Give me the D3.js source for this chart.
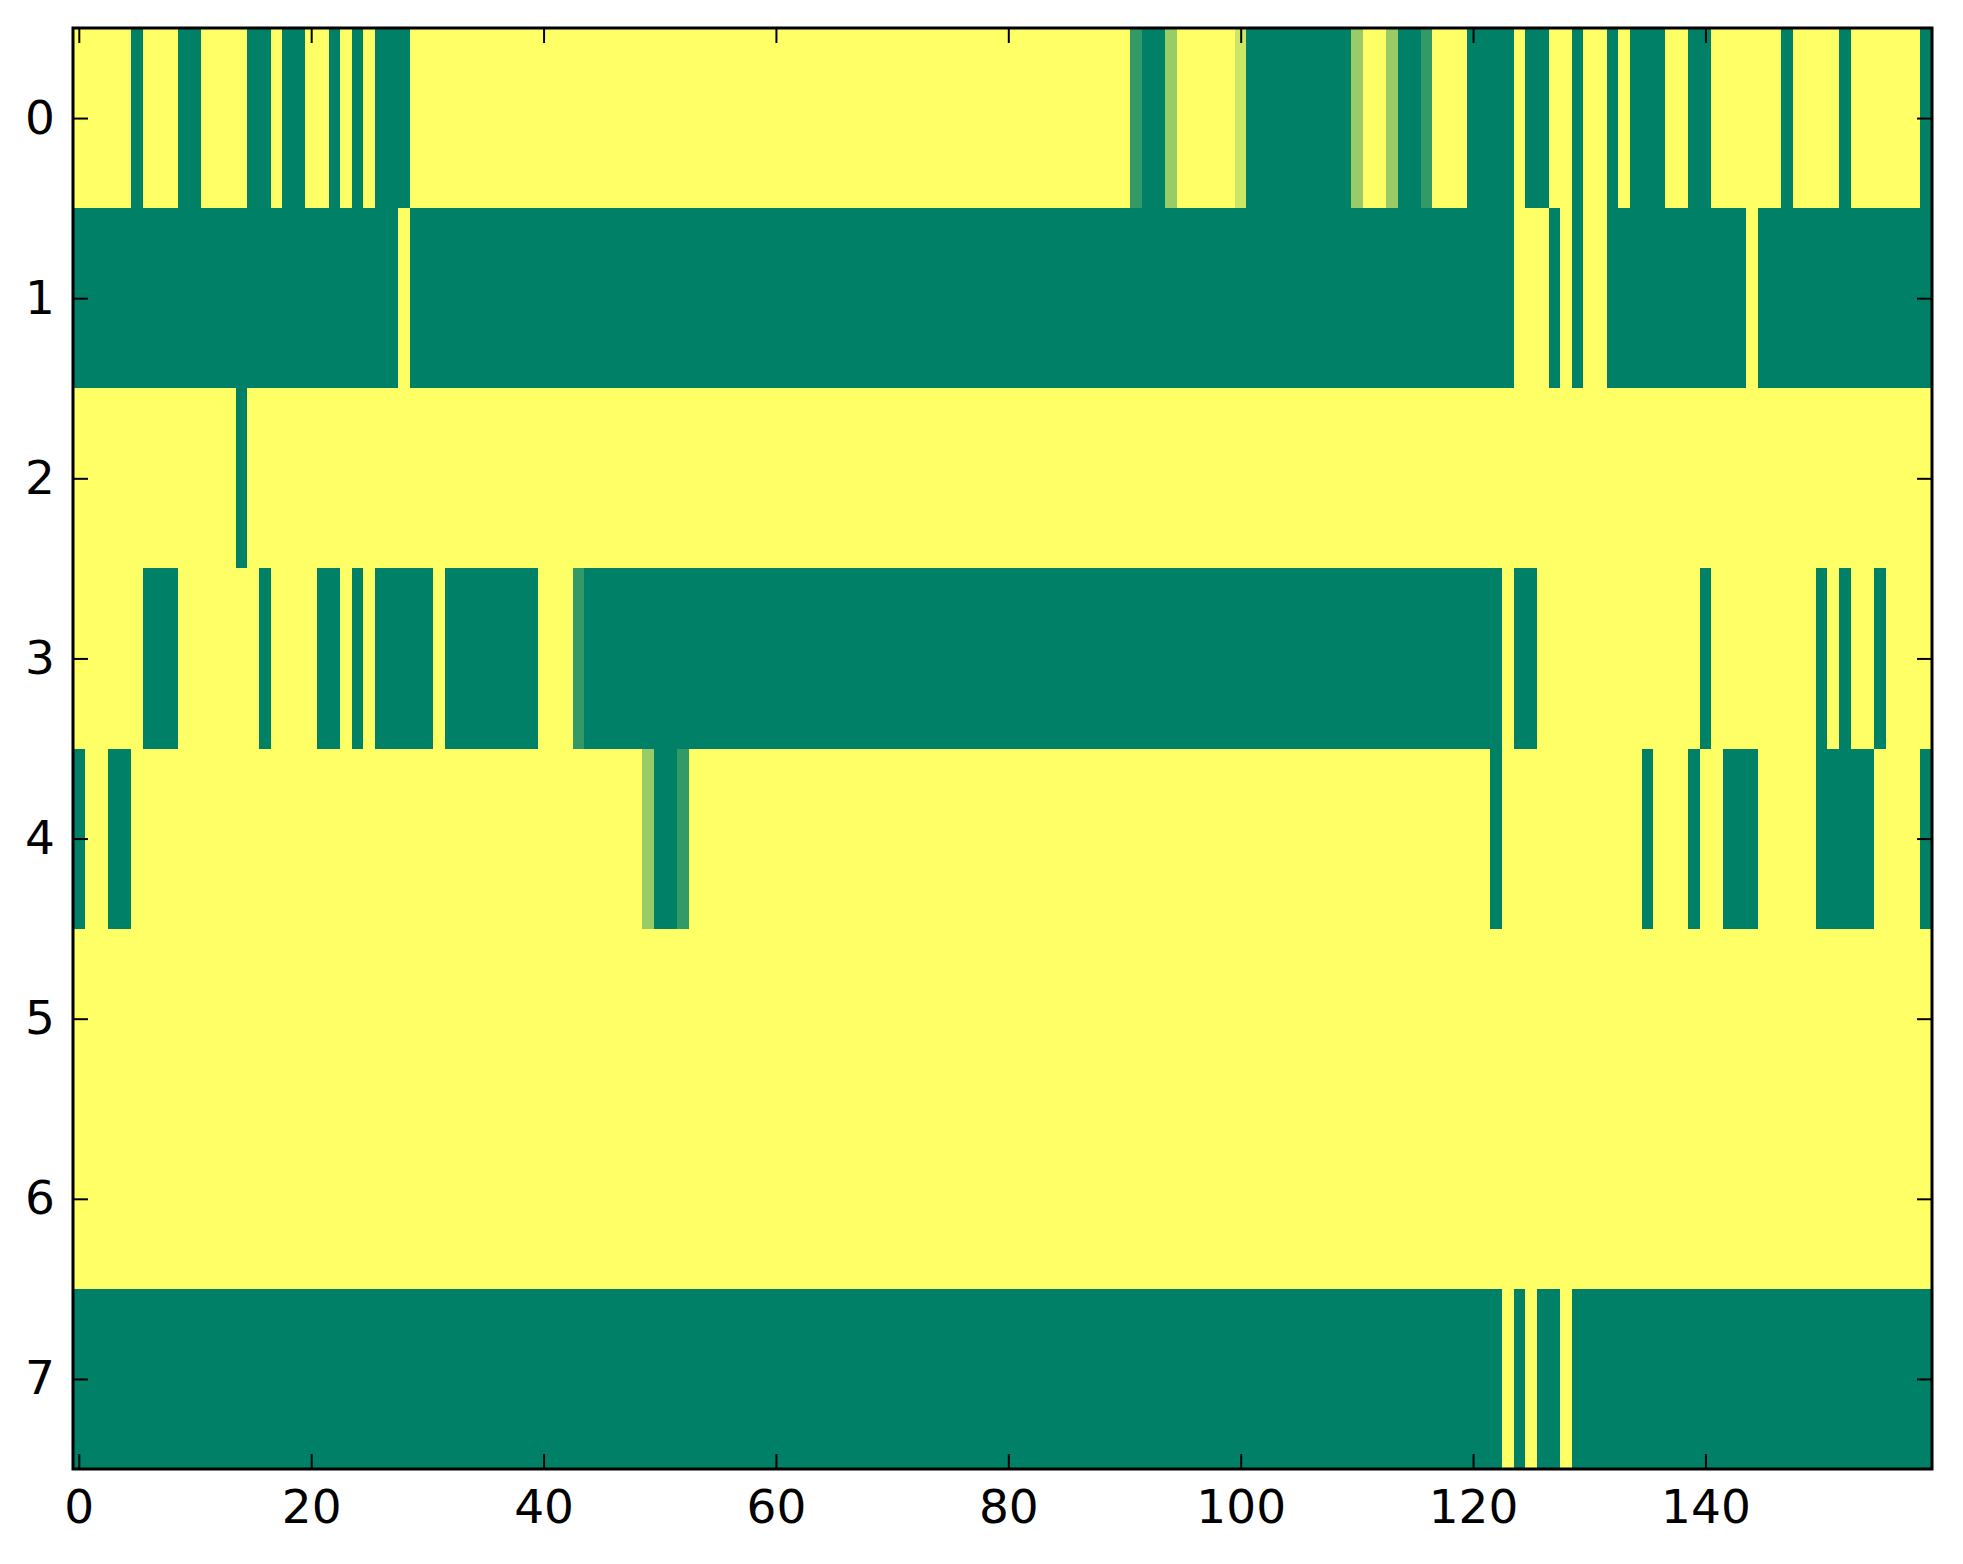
<!DOCTYPE html>
<html>
<head>
<meta charset="utf-8">
<script src="https://cdn.jsdelivr.net/npm/d3@7"></script>
<style>
  body { margin: 0; background: #fff; }
  svg text { font-family: "DejaVu Sans", sans-serif; }
</style>
</head>
<body>
<div id="chart"></div>
<script>
// one array per image row, 160 columns each (0 = green, 1 = yellow)
const row0 = [
  1,1,1,1,1,0,1,1,1,0,0,1,1,1,1,0,0,1,0,0,
  1,1,0,1,0,1,0,0,0,1,1,1,1,1,1,1,1,1,1,1,
  1,1,1,1,1,1,1,1,1,1,1,1,1,1,1,1,1,1,1,1,
  1,1,1,1,1,1,1,1,1,1,1,1,1,1,1,1,1,1,1,1,
  1,1,1,1,1,1,1,1,1,1,1,0.2,0,0,0.6,1,1,1,1,1,
  0.8,0,0,0,0,0,0,0,0,0,0.6,1,1,0.6,0,0,0.2,1,1,1,
  0,0,0,0,1,0,0,1,1,0,1,1,0,1,0,0,0,1,1,0,
  0,1,1,1,1,1,1,0,1,1,1,1,0,1,1,1,1,1,1,0
];
const row1 = [
  0,0,0,0,0,0,0,0,0,0,0,0,0,0,0,0,0,0,0,0,
  0,0,0,0,0,0,0,0,1,0,0,0,0,0,0,0,0,0,0,0,
  0,0,0,0,0,0,0,0,0,0,0,0,0,0,0,0,0,0,0,0,
  0,0,0,0,0,0,0,0,0,0,0,0,0,0,0,0,0,0,0,0,
  0,0,0,0,0,0,0,0,0,0,0,0,0,0,0,0,0,0,0,0,
  0,0,0,0,0,0,0,0,0,0,0,0,0,0,0,0,0,0,0,0,
  0,0,0,0,1,1,1,0,1,0,1,1,0,0,0,0,0,0,0,0,
  0,0,0,0,1,0,0,0,0,0,0,0,0,0,0,0,0,0,0,0
];
const row2 = [
  1,1,1,1,1,1,1,1,1,1,1,1,1,1,0,1,1,1,1,1,
  1,1,1,1,1,1,1,1,1,1,1,1,1,1,1,1,1,1,1,1,
  1,1,1,1,1,1,1,1,1,1,1,1,1,1,1,1,1,1,1,1,
  1,1,1,1,1,1,1,1,1,1,1,1,1,1,1,1,1,1,1,1,
  1,1,1,1,1,1,1,1,1,1,1,1,1,1,1,1,1,1,1,1,
  1,1,1,1,1,1,1,1,1,1,1,1,1,1,1,1,1,1,1,1,
  1,1,1,1,1,1,1,1,1,1,1,1,1,1,1,1,1,1,1,1,
  1,1,1,1,1,1,1,1,1,1,1,1,1,1,1,1,1,1,1,1
];
const row3 = [
  1,1,1,1,1,1,0,0,0,1,1,1,1,1,1,1,0,1,1,1,
  1,0,0,1,0,1,0,0,0,0,0,1,0,0,0,0,0,0,0,0,
  1,1,1,0.2,0,0,0,0,0,0,0,0,0,0,0,0,0,0,0,0,
  0,0,0,0,0,0,0,0,0,0,0,0,0,0,0,0,0,0,0,0,
  0,0,0,0,0,0,0,0,0,0,0,0,0,0,0,0,0,0,0,0,
  0,0,0,0,0,0,0,0,0,0,0,0,0,0,0,0,0,0,0,0,
  0,0,0,1,0,0,1,1,1,1,1,1,1,1,1,1,1,1,1,1,
  0,1,1,1,1,1,1,1,1,1,0,1,0,1,1,0,1,1,1,1
];
const row4 = [
  0,1,1,0,0,1,1,1,1,1,1,1,1,1,1,1,1,1,1,1,
  1,1,1,1,1,1,1,1,1,1,1,1,1,1,1,1,1,1,1,1,
  1,1,1,1,1,1,1,1,1,0.6,0,0,0.2,1,1,1,1,1,1,1,
  1,1,1,1,1,1,1,1,1,1,1,1,1,1,1,1,1,1,1,1,
  1,1,1,1,1,1,1,1,1,1,1,1,1,1,1,1,1,1,1,1,
  1,1,1,1,1,1,1,1,1,1,1,1,1,1,1,1,1,1,1,1,
  1,1,0,1,1,1,1,1,1,1,1,1,1,1,1,0,1,1,1,0,
  1,1,0,0,0,1,1,1,1,1,0,0,0,0,0,1,1,1,1,0
];
const row5 = [
  1,1,1,1,1,1,1,1,1,1,1,1,1,1,1,1,1,1,1,1,
  1,1,1,1,1,1,1,1,1,1,1,1,1,1,1,1,1,1,1,1,
  1,1,1,1,1,1,1,1,1,1,1,1,1,1,1,1,1,1,1,1,
  1,1,1,1,1,1,1,1,1,1,1,1,1,1,1,1,1,1,1,1,
  1,1,1,1,1,1,1,1,1,1,1,1,1,1,1,1,1,1,1,1,
  1,1,1,1,1,1,1,1,1,1,1,1,1,1,1,1,1,1,1,1,
  1,1,1,1,1,1,1,1,1,1,1,1,1,1,1,1,1,1,1,1,
  1,1,1,1,1,1,1,1,1,1,1,1,1,1,1,1,1,1,1,1
];
const row6 = [
  1,1,1,1,1,1,1,1,1,1,1,1,1,1,1,1,1,1,1,1,
  1,1,1,1,1,1,1,1,1,1,1,1,1,1,1,1,1,1,1,1,
  1,1,1,1,1,1,1,1,1,1,1,1,1,1,1,1,1,1,1,1,
  1,1,1,1,1,1,1,1,1,1,1,1,1,1,1,1,1,1,1,1,
  1,1,1,1,1,1,1,1,1,1,1,1,1,1,1,1,1,1,1,1,
  1,1,1,1,1,1,1,1,1,1,1,1,1,1,1,1,1,1,1,1,
  1,1,1,1,1,1,1,1,1,1,1,1,1,1,1,1,1,1,1,1,
  1,1,1,1,1,1,1,1,1,1,1,1,1,1,1,1,1,1,1,1
];
const row7 = [
  0,0,0,0,0,0,0,0,0,0,0,0,0,0,0,0,0,0,0,0,
  0,0,0,0,0,0,0,0,0,0,0,0,0,0,0,0,0,0,0,0,
  0,0,0,0,0,0,0,0,0,0,0,0,0,0,0,0,0,0,0,0,
  0,0,0,0,0,0,0,0,0,0,0,0,0,0,0,0,0,0,0,0,
  0,0,0,0,0,0,0,0,0,0,0,0,0,0,0,0,0,0,0,0,
  0,0,0,0,0,0,0,0,0,0,0,0,0,0,0,0,0,0,0,0,
  0,0,0,1,0,1,0,0,1,0,0,0,0,0,0,0,0,0,0,0,
  0,0,0,0,0,0,0,0,0,0,0,0,0,0,0,0,0,0,0,0
];

const rows = [row0, row1, row2, row3, row4, row5, row6, row7];
const xTicks = [0, 20, 40, 60, 80, 100, 120, 140];
const yTicks = [0, 1, 2, 3, 4, 5, 6, 7];

const width = 1963;
const height = 1564;
const margin = { top: 28, right: 31, bottom: 95, left: 73 };

const svg = d3.select("#chart")
    .append("svg")
    .attr("width", width)
    .attr("height", height);

const nCols = row0.length;

const x = d3.scaleLinear()
    .domain([-0.5, nCols - 0.5])
    .range([margin.left, width - margin.right]);

const y = d3.scaleLinear()
    .domain([-0.5, rows.length - 0.5])
    .range([margin.top, height - margin.bottom]);

// matplotlib "summer" colormap is a straight rgb ramp
const color = d3.scaleLinear()
    .domain([0, 1])
    .range(["#008066", "#ffff66"])
    .interpolate(d3.interpolateRgb);

const cells = [];
rows.forEach((r, ri) => {
    r.forEach((v, ci) => cells.push({ row: ri, col: ci, value: v }));
});

svg.append("g")
    .selectAll("rect")
    .data(cells)
    .join("rect")
    .attr("x", d => x(d.col - 0.5))
    .attr("y", d => y(d.row - 0.5))
    .attr("width", d => x(d.col + 0.5) - x(d.col - 0.5) + 0.4)
    .attr("height", d => y(d.row + 0.5) - y(d.row - 0.5) + 0.4)
    .attr("fill", d => color(d.value))
    .attr("shape-rendering", "crispEdges");

const tickLen = 15;
const fontSize = 47;

// ticks point inward on all four sides, labels only bottom and left
const bottomAxis = svg.append("g")
    .attr("transform", `translate(0,${height - margin.bottom})`)
    .call(d3.axisBottom(x).tickValues(xTicks).tickSize(-tickLen).tickPadding(21));
const topAxis = svg.append("g")
    .attr("transform", `translate(0,${margin.top})`)
    .call(d3.axisTop(x).tickValues(xTicks).tickSize(-tickLen).tickFormat(""));
const leftAxis = svg.append("g")
    .attr("transform", `translate(${margin.left},0)`)
    .call(d3.axisLeft(y).tickValues(yTicks).tickSize(-tickLen).tickPadding(18));
const rightAxis = svg.append("g")
    .attr("transform", `translate(${width - margin.right},0)`)
    .call(d3.axisRight(y).tickValues(yTicks).tickSize(-tickLen).tickFormat(""));

[bottomAxis, topAxis, leftAxis, rightAxis].forEach(g => {
    g.select(".domain").remove();
    g.selectAll(".tick line").attr("stroke", "#000").attr("stroke-width", 2);
    g.selectAll(".tick text")
        .attr("fill", "#000")
        .attr("font-size", fontSize)
        .attr("font-family", "DejaVu Sans, sans-serif");
});

// frame
svg.append("rect")
    .attr("x", margin.left)
    .attr("y", margin.top)
    .attr("width", width - margin.left - margin.right)
    .attr("height", height - margin.top - margin.bottom)
    .attr("fill", "none")
    .attr("stroke", "#000")
    .attr("stroke-width", 3);
</script>
</body>
</html>
